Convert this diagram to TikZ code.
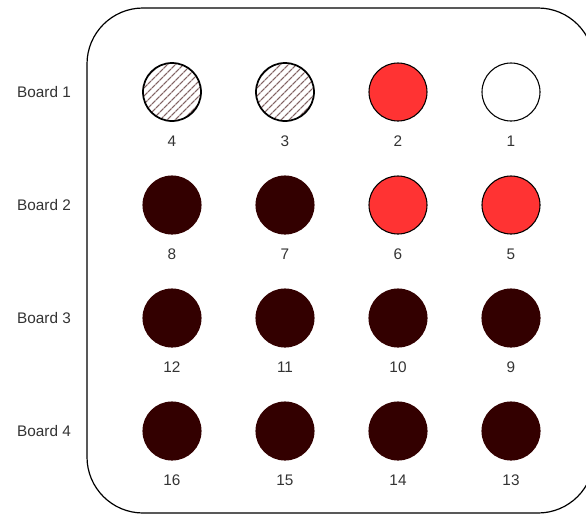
\documentclass[tikz,border=0pt]{standalone}
\usepackage{fontspec}
\setmainfont{Liberation Sans}
\usepackage{xcolor}
\usetikzlibrary{patterns.meta}

\definecolor{ledred}{HTML}{FF3333}
\definecolor{leddark}{HTML}{330000}
\definecolor{hatchbrown}{HTML}{806060}
\definecolor{labelgray}{HTML}{333333}

\begin{document}
\begin{tikzpicture}[x=0.75pt, y=-0.75pt,
        led/.style={circle, inner sep=0pt, minimum size=43.5pt, line width=0.8pt},
        ledon/.style={led, draw=black, fill=ledred},
        ledoff/.style={led, draw=black, fill=white},
        ledfull/.style={led, draw=leddark, fill=leddark},
        ledhatch/.style={led, draw=black, line width=1.3pt, pattern={Lines[angle=45, distance=4pt, line width=1pt]}, pattern color=hatchbrown},
        num/.style={font=\fontsize{11.5}{13}\selectfont, text=labelgray},
        board/.style={font=\fontsize{11.5}{13}\selectfont, text=labelgray}
    ]
        \useasboundingbox (0,0) rectangle (586,515);
        \draw[rounded corners=42pt, line width=0.9pt] (87,8) rectangle (594,513);

        % board names
        \node[board] (b1) at (44,92) {Board 1};
        \node[board] (b2) at (44,205) {Board 2};
        \node[board] (b3) at (44,318) {Board 3};
        \node[board] (b4) at (44,431) {Board 4};

        % board 1
        \node[ledhatch] (l4) at (172,92) {};
        \node[ledhatch] (l3) at (285,92) {};
        \node[ledon] (l2) at (398,92) {};
        \node[ledoff] (l1) at (511,92) {};
        % board 2
        \node[ledfull] (l8) at (172,205) {};
        \node[ledfull] (l7) at (285,205) {};
        \node[ledon] (l6) at (398,205) {};
        \node[ledon] (l5) at (511,205) {};
        % board 3
        \node[ledfull] (l12) at (172,318) {};
        \node[ledfull] (l11) at (285,318) {};
        \node[ledfull] (l10) at (398,318) {};
        \node[ledfull] (l9) at (511,318) {};
        % board 4
        \node[ledfull] (l16) at (172,431) {};
        \node[ledfull] (l15) at (285,431) {};
        \node[ledfull] (l14) at (398,431) {};
        \node[ledfull] (l13) at (511,431) {};

        % numbers
        \node[num] (n4) at (172,141) {4};
        \node[num] (n3) at (285,141) {3};
        \node[num] (n2) at (398,141) {2};
        \node[num] (n1) at (511,141) {1};
        \node[num] (n8) at (172,254) {8};
        \node[num] (n7) at (285,254) {7};
        \node[num] (n6) at (398,254) {6};
        \node[num] (n5) at (511,254) {5};
        \node[num] (n12) at (172,367) {12};
        \node[num] (n11) at (285,367) {11};
        \node[num] (n10) at (398,367) {10};
        \node[num] (n9) at (511,367) {9};
        \node[num] (n16) at (172,480) {16};
        \node[num] (n15) at (285,480) {15};
        \node[num] (n14) at (398,480) {14};
        \node[num] (n13) at (511,480) {13};
    \end{tikzpicture}
\end{document}
